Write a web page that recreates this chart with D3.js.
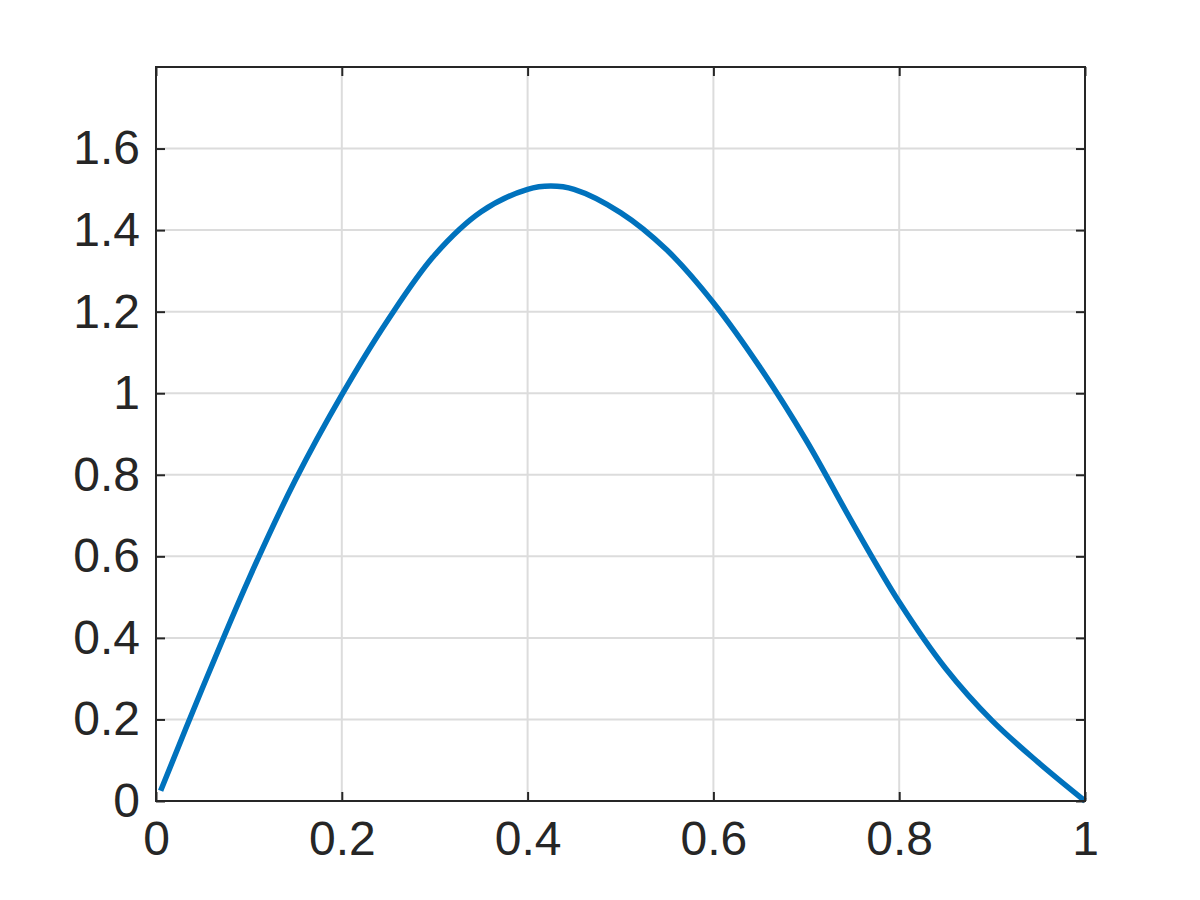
<!DOCTYPE html>
<html><head><meta charset="utf-8">
<script src="https://cdn.jsdelivr.net/npm/d3@7"></script>
<style>body{margin:0;background:#fff}svg{display:block}</style>
</head><body><svg id="c" width="1200" height="900"></svg>
<script>
const xValues = [0.005,0.05,0.1,0.15,0.2,0.25,0.3,0.35,0.4,0.425,0.45,0.5,0.55,0.6,0.65,0.7,0.75,0.8,0.85,0.9,0.95,1.0];
const yValues = [0.025,0.277,0.545,0.787,0.996,1.181,1.339,1.445,1.5,1.508,1.5,1.443,1.351,1.222,1.064,0.884,0.681,0.488,0.325,0.197,0.094,0.0];
const xTicks = [0,0.2,0.4,0.6,0.8,1];
const yTicks = [0,0.2,0.4,0.6,0.8,1,1.2,1.4,1.6];

(function(){
const svg = d3.select("#c");
const L=156,R=1085,T=67,B=801;
const x = d3.scaleLinear().domain([0,1]).range([L,R]);
const y = d3.scaleLinear().domain([0,1.8]).range([B,T]);
const ink="#262626";
const fmt = d => String(+d.toFixed(1));
const font = "Liberation Sans, Arial, Helvetica, sans-serif";

// grid
svg.append("g").selectAll("line").data(xTicks.slice(1,-1)).join("line")
  .attr("x1",d=>x(d)).attr("x2",d=>x(d)).attr("y1",T).attr("y2",B)
  .attr("stroke","#dcdcdc").attr("stroke-width",2);
svg.append("g").selectAll("line").data(yTicks.slice(1)).join("line")
  .attr("x1",L).attr("x2",R).attr("y1",d=>y(d)).attr("y2",d=>y(d))
  .attr("stroke","#dcdcdc").attr("stroke-width",2);

// curve
const pts = xValues.map((v,i)=>[v,yValues[i]]);
svg.append("path").datum(pts)
  .attr("d", d3.line().x(d=>x(d[0])).y(d=>y(d[1])).curve(d3.curveCatmullRom.alpha(0.5)))
  .attr("fill","none").attr("stroke","#0072BD").attr("stroke-width",5.5)
  .attr("stroke-linejoin","round");

// axes (ticks inward, MATLAB style)
const tk=9;
const aBottom = d3.axisBottom(x).tickValues(xTicks).tickSize(-tk).tickPadding(20).tickFormat(fmt);
const aTop = d3.axisTop(x).tickValues(xTicks).tickSize(-tk).tickFormat("");
const aLeft = d3.axisLeft(y).tickValues(yTicks).tickSize(-tk).tickPadding(16).tickFormat(fmt);
const aRight = d3.axisRight(y).tickValues(yTicks).tickSize(-tk).tickFormat("");
function style(g){
  g.selectAll("path").remove();
  g.selectAll("line").attr("stroke",ink).attr("stroke-width",2);
  g.selectAll("text").attr("fill",ink).attr("font-size",48).attr("font-family",font);
}
svg.append("g").attr("transform",`translate(0,${B})`).call(aBottom).call(style);
svg.append("g").attr("transform",`translate(0,${T})`).call(aTop).call(style);
svg.append("g").attr("transform",`translate(${L},0)`).call(aLeft).call(style);
svg.append("g").attr("transform",`translate(${R},0)`).call(aRight).call(style);
svg.append("rect").attr("x",L).attr("y",T).attr("width",R-L).attr("height",B-T)
  .attr("fill","none").attr("stroke",ink).attr("stroke-width",2);
})();
</script></body></html>
